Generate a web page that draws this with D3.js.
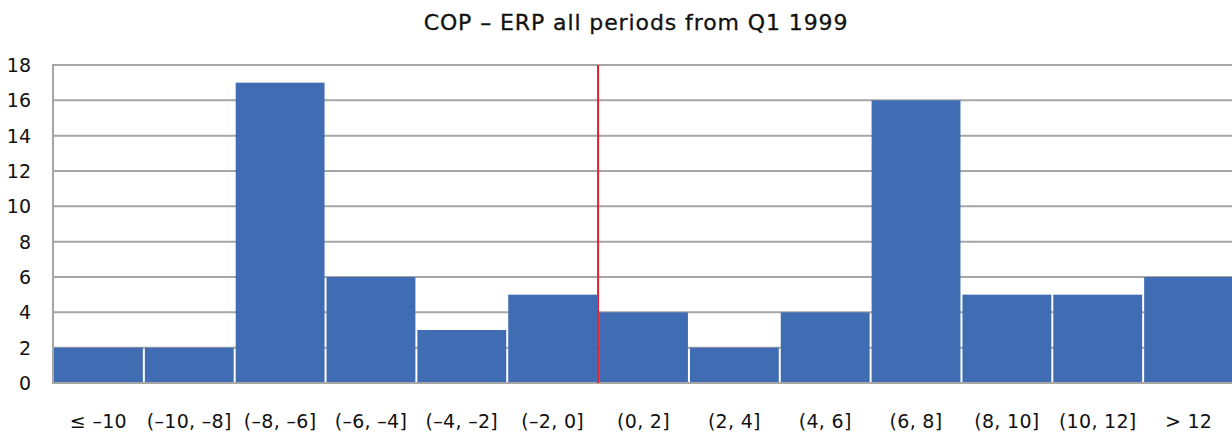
<!DOCTYPE html>
<html><head><meta charset="utf-8">
<script src="https://cdn.jsdelivr.net/npm/d3@7"></script>
<style>body{margin:0;background:#fff;} svg{display:block;font-family:"DejaVu Sans", sans-serif;}</style>
</head><body><svg id="c" width="1232" height="437"></svg>
<script>
const title = "COP – ERP all periods from Q1 1999";
const categories = ["≤ –10","(–10, –8]","(–8, –6]","(–6, –4]","(–4, –2]","(–2, 0]","(0, 2]","(2, 4]","(4, 6]","(6, 8]","(8, 10]","(10, 12]","> 12"];
const counts = [2,2,17,6,3,5,4,2,4,16,5,5,6];
const yTicks = [0,2,4,6,8,10,12,14,16,18];
const markerCategory = "(0, 2]"; // red line at left boundary of this bin

const svg = d3.select("#c");
const m = {left:53, right:0, top:65, bottom:54};
const W = 1232, H = 437;
const x = d3.scaleBand().domain(categories).range([m.left+1, W+1]).paddingInner(0.022).paddingOuter(0);
const y = d3.scaleLinear().domain([0,18]).range([H-m.bottom, m.top]);

svg.append("text").attr("x",636).attr("y",30).attr("text-anchor","middle")
  .attr("font-size",22).attr("letter-spacing","0.9px")
  .attr("fill","#111").attr("stroke","#111").attr("stroke-width",0.3).text(title);

// gridlines
svg.append("g").selectAll("line").data(yTicks.filter(d=>d>0)).join("line")
  .attr("x1",m.left).attr("x2",W).attr("y1",d=>y(d)).attr("y2",d=>y(d))
  .attr("stroke","#A6A6A6").attr("stroke-width",2);

// bars
svg.append("g").selectAll("rect").data(counts).join("rect")
  .attr("x",(d,i)=>x(categories[i])).attr("width",x.bandwidth())
  .attr("y",d=>y(d)).attr("height",d=>y(0)-y(d)).attr("fill","#3F6CB3");

// axes lines
svg.append("line").attr("x1",m.left).attr("x2",m.left).attr("y1",y(18)-1).attr("y2",y(0)+1)
  .attr("stroke","#A6A6A6").attr("stroke-width",2);
svg.append("line").attr("x1",m.left).attr("x2",W).attr("y1",y(0)).attr("y2",y(0))
  .attr("stroke","#A6A6A6").attr("stroke-width",2);

// y tick labels
svg.append("g").selectAll("text").data(yTicks).join("text")
  .attr("x",31).attr("y",d=>y(d)).attr("dy","0.36em").attr("text-anchor","end")
  .attr("font-size",19).attr("fill","#111").text(d=>d);

// x labels
svg.append("g").selectAll("text").data(categories).join("text")
  .attr("x",d=>x(d)+x.bandwidth()/2).attr("y",428).attr("text-anchor","middle")
  .attr("font-size",19).attr("letter-spacing","0.3px").attr("fill","#111").text(d=>d);

// red marker line
const rx = x(markerCategory) - x.step()*x.paddingInner()/2;
svg.append("line").attr("x1",rx).attr("x2",rx).attr("y1",y(18)).attr("y2",y(0))
  .attr("stroke","#E0202C").attr("stroke-width",2);
</script></body></html>
